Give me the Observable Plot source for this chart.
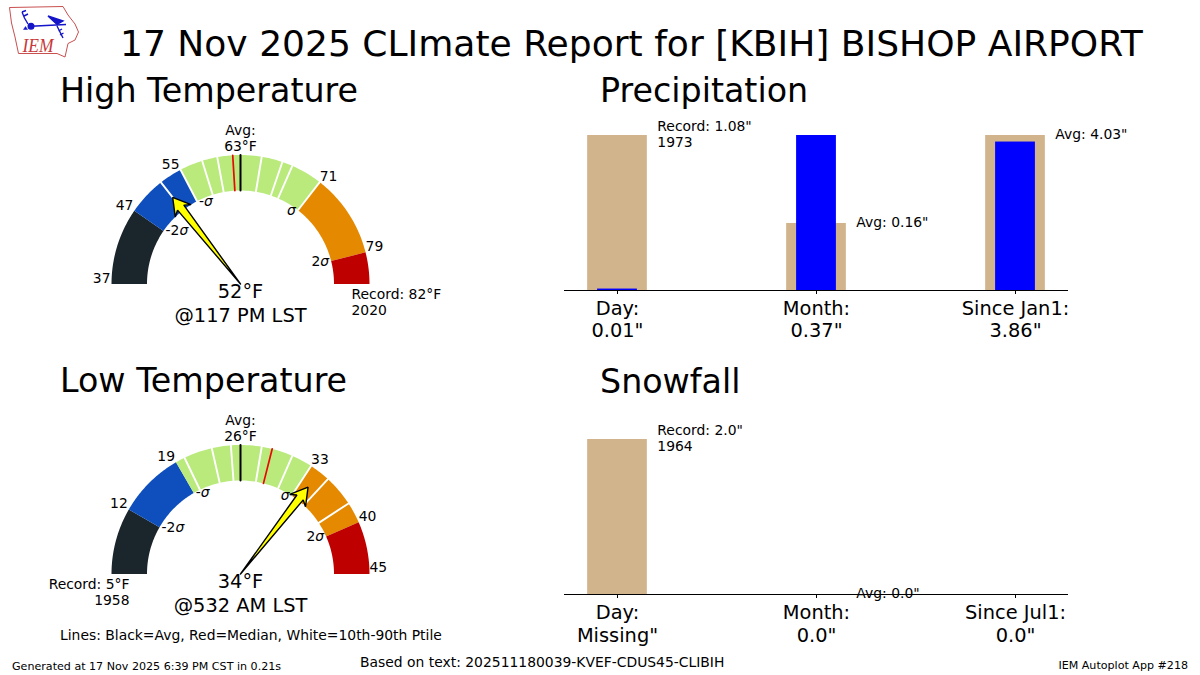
<!DOCTYPE html>
<html><head><meta charset="utf-8">
<script src="https://cdn.jsdelivr.net/npm/d3@7"></script>
<script src="https://cdn.jsdelivr.net/npm/@observablehq/plot@0.6"></script>
<style>
html,body{margin:0;padding:0;background:#fff;width:1200px;height:675px;overflow:hidden;font-family:"DejaVu Sans",sans-serif;color:#000}
.abs{position:absolute;white-space:nowrap;line-height:1}
</style></head><body>
<svg class="abs" style="left:0;top:0" width="90" height="62" viewBox="0 0 90 62">
  <path d="M9.5 7.5L63 6.5L68 15L75 24L78.5 32L75 40L68 43.5L65 57L57 53.5L18.5 53.5L15 37L11.5 23Z" fill="none" stroke="#c8504f" stroke-width="1"/>
  <g stroke="#1414c8" fill="#1414c8" stroke-width="1.4">
    <circle cx="31" cy="26.3" r="2.8"/>
    <path d="M31 26.3L66 24.5M57 26L63 38M22 12L24.5 18L28 24M22 12L26 10.5M24 16L28 14M58.5 31L62 29M60 35L63.5 33" fill="none"/>
    <path d="M48 16L63 21L57 24.5Z"/><path d="M23.5 29.5L25.5 26.5L27.5 29.5Z" stroke-width=".5"/>
  </g>
  <text x="22.5" y="52" font-family="Liberation Serif" font-style="italic" font-size="19" fill="#c8383a" textLength="31" lengthAdjust="spacingAndGlyphs">IEM</text>
</svg>
<div id="root"></div>
<script>
// ---- Chart data ----
const highEdges = [37, 47, 55, 71, 79, 82];
const highAvg = 63, highMedian = 62, highObs = 52;
const highPercentiles = [52, 55, 58, 60, 65, 67, 68, 71];
const highTicks = [37, 47, 55, 71, 79];

const lowEdges = [5, 12, 19, 33, 40, 45];
const lowAvg = 26, lowMedian = 29, lowObs = 34;
const lowPercentiles = [20, 23, 25, 28, 31, 33, 35, 38];
const lowTicks = [12, 19, 33, 40, 45];

const wedgeColors = ["#1b262c", "#0f4fbd", "#b9ea7b", "#e58a00", "#bf0000"];
const sigmaLabels = ["-2σ", "-σ", "σ", "2σ"];

const precipObs = [0.01, 0.37, 3.86];
const precipRef = [1.08, 0.16, 4.03];
const precipRefText = ['Record: 1.08"\n1973', 'Avg: 0.16"', 'Avg: 4.03"'];
const precipTicks = ['Day:\n0.01"', 'Month:\n0.37"', 'Since Jan1:\n3.86"'];

const snowObs = [0, 0, 0];
const snowRef = [2.0, 0.0, 0.0];
const snowRefText = ['Record: 2.0"\n1964', 'Avg: 0.0"', ''];
const snowTicks = ['Day:\nMissing"', 'Month:\n0.0"', 'Since Jul1:\n0.0"'];

const FONT = '"DejaVu Sans"';
const FS = 13.9, FS_BIG = 19.4;
const root = document.getElementById("root");

function place(el, left, top) {
  const d = document.createElement("div");
  d.className = "abs"; d.style.left = left + "px"; d.style.top = top + "px";
  d.appendChild(el); root.appendChild(d);
}
function label(text, x, y, size, anchor) {
  const d = document.createElement("div");
  d.className = "abs"; d.textContent = text;
  d.style.fontSize = size + "px";
  if (anchor === "right") d.style.right = (1200 - x) + "px"; else d.style.left = x + "px";
  d.style.top = y + "px";
  root.appendChild(d);
}

function italicSigma(svg) {
  svg.querySelectorAll("text").forEach(t => {
    if (t.children.length === 0 && t.textContent.includes("σ")) {
      t.innerHTML = t.textContent.replace("σ", '<tspan font-style="italic">σ</tspan>');
    }
  });
}

const R = 129, r = 93.5;

function gauge(cfg) {
  const {edges, avg, median, obs, percentiles, ticks, avgText, obsText, recordText, recordPos, recordAnchor, left, top} = cfg;
  const lo = edges[0], hi = edges[edges.length - 1];
  const ang = v => (v <= avg ? 180 - (v - lo) / (avg - lo) * 90 : 90 - (v - avg) / (hi - avg) * 90) * Math.PI / 180;
  const pt = (v, rad) => [rad * Math.cos(ang(v)), rad * Math.sin(ang(v))];
  const wedge = (a, b) => {
    const n = 48, out = [], inn = [];
    for (let i = 0; i <= n; i++) {
      const v = a + (b - a) * i / n;
      out.push(pt(v, R)); inn.push(pt(v, r));
    }
    const poly = out.concat(inn.reverse());
    poly.push(poly[0]);
    return poly;
  };
  const spoke = (v) => [pt(v, r), pt(v, R)];

  // needle polygon in local (along, across) coordinates
  const th = ang(obs), u = [Math.cos(th), Math.sin(th)], n = [-u[1], u[0]];
  const L = 110;
  const local = [[0, 0], [L - 13, -4], [L - 17, -10], [L, 0], [L - 17, 10], [L - 13, 4], [0, 0]];
  const needle = local.map(([a, c]) => [a * u[0] + c * n[0], a * u[1] + c * n[1]]);

  const sigma = edges.slice(1, 5).map((e, i) => ({e, t: sigmaLabels[i], p: pt(e, r)}));
  const tickPts = ticks.map(v => ({v, p: pt(v, R)}));
  const marks = [];
  edges.slice(0, -1).forEach((e, i) => {
    marks.push(Plot.line(wedge(e, edges[i + 1]), {x: d => d[0], y: d => d[1], fill: wedgeColors[i], stroke: "none", z: null}));
  });
  percentiles.forEach(v => marks.push(Plot.line(spoke(v), {x: d => d[0], y: d => d[1], stroke: "white", strokeWidth: 1.9})));
  marks.push(Plot.line(spoke(median), {x: d => d[0], y: d => d[1], stroke: "#e80808", strokeWidth: 1.7}));
  marks.push(Plot.line(spoke(avg), {x: d => d[0], y: d => d[1], stroke: "black", strokeWidth: 2}));
  marks.push(Plot.line(needle, {x: d => d[0], y: d => d[1], fill: "#ffff00", stroke: "black", strokeWidth: 1.4, strokeLinejoin: "miter", z: null}));
  marks.push(Plot.text(tickPts.filter(t => t.p[0] < 0), {x: t => t.p[0] - 1, y: t => t.p[1], text: t => String(t.v), textAnchor: "end", fontSize: FS, dy: -5.5, fill: "black"}));
  marks.push(Plot.text(tickPts.filter(t => t.p[0] >= 0), {x: t => t.p[0], y: t => t.p[1], text: t => String(t.v), textAnchor: "start", fontSize: FS, dy: -6, fill: "black"}));
  marks.push(Plot.text(sigma.filter(s => s.p[0] < 0), {x: s => s.p[0] + 2, y: s => s.p[1], text: "t", textAnchor: "start", fontSize: FS, fill: "black"}));
  marks.push(Plot.text(sigma.filter(s => s.p[0] >= 0), {x: s => s.p[0] - 2, y: s => s.p[1], text: "t", textAnchor: "end", fontSize: FS, fill: "black"}));
  marks.push(Plot.text([avgText], {x: () => 0, y: () => R + 4, text: d => d, lineAnchor: "bottom", lineHeight: 1.15, fontSize: FS, fill: "black"}));
  marks.push(Plot.text([obsText], {x: () => 0, y: () => -7, text: d => d, lineAnchor: "middle", lineHeight: 1.22, fontSize: FS_BIG, fill: "black", dy: 11.6}));
  marks.push(Plot.text([recordText], {x: () => recordPos[0], y: () => recordPos[1], text: d => d, textAnchor: recordAnchor, lineAnchor: "top", lineHeight: 1.15, fontSize: FS, fill: "black"}));

  const svg = Plot.plot({
    width: 540, height: 230, margin: 0,
    x: {domain: [-240, 300], axis: null},
    y: {domain: [-56.5, 173.5], axis: null},
    style: {fontFamily: FONT, background: "transparent", overflow: "visible"},
    marks
  });
  italicSigma(svg);
  place(svg, left, top);
}

function bars(cfg) {
  const {obs, ref, refText, ticks, top, height, marginTop, marginBottom, tickPadding} = cfg;
  const idx = [0, 1, 2];
  const scale = i => Math.max(obs[i], ref[i]) || 1;
  const refV = i => ref[i] / scale(i), obsV = i => obs[i] / scale(i);
  const svg = Plot.plot({
    width: 640, height, marginLeft: 24, marginRight: 112, marginTop, marginBottom,
    x: {domain: [-0.2663, 2.2663], axis: null},
    y: {domain: [0, 1], axis: null},
    style: {fontFamily: FONT, background: "transparent", overflow: "visible"},
    marks: [
      Plot.rectY(idx, {x1: i => i - 0.15, x2: i => i + 0.15, y1: () => 0, y2: refV, fill: "#d2b48c"}),
      Plot.rectY(idx, {x1: i => i - 0.1, x2: i => i + 0.1, y1: () => 0, y2: obsV, fill: "#0000ff"}),
      Plot.ruleY([0], {stroke: "black", strokeWidth: 1}),
      Plot.axisX({ticks: idx, tickFormat: i => ticks[i], tickSize: 4, tickPadding, fontSize: FS_BIG, lineHeight: 1.15, label: null, stroke: "black", fill: "black", anchor: "bottom", lineAnchor: "top", marginBottom}),
      Plot.text(idx.filter(i => refText[i]), {x: i => i + 0.15, y: refV, text: i => refText[i], dx: 10, dy: -2, textAnchor: "start", lineAnchor: "middle", lineHeight: 1.15, fontSize: FS, fill: "black"})
    ]
  });
  place(svg, 540, top);
}

gauge({edges: highEdges, avg: highAvg, median: highMedian, obs: highObs, percentiles: highPercentiles, ticks: highTicks,
  avgText: "Avg:\n63°F", obsText: "52°F\n@117 PM LST", recordText: "Record: 82°F\n2020", recordPos: [111, -4], recordAnchor: "start", left: 0, top: 110});
gauge({edges: lowEdges, avg: lowAvg, median: lowMedian, obs: lowObs, percentiles: lowPercentiles, ticks: lowTicks,
  avgText: "Avg:\n26°F", obsText: "34°F\n@532 AM LST", recordText: "Record: 5°F\n1958", recordPos: [-111, -4], recordAnchor: "end", left: 0, top: 400});

bars({obs: precipObs, ref: precipRef, refText: precipRefText, ticks: precipTicks, top: 110, height: 240, marginTop: 25, marginBottom: 60, tickPadding: 4.5});
bars({obs: snowObs, ref: snowRef, refText: snowRefText, ticks: snowTicks, top: 400, height: 240, marginTop: 39, marginBottom: 46, tickPadding: 5});

label("17 Nov 2025 CLImate Report for [KBIH] BISHOP AIRPORT", 120, 25.5, 36.05);
label("High Temperature", 60, 74, 33.3);
label("Precipitation", 600, 74, 33.3);
label("Low Temperature", 60, 364, 33.3);
label("Snowfall", 600, 365, 33.3);
label("Lines: Black=Avg, Red=Median, White=10th-90th Ptile", 60, 629, 13.9);
label("Generated at 17 Nov 2025 6:39 PM CST in 0.21s", 12, 661, 11.1);
label("Based on text: 202511180039-KVEF-CDUS45-CLIBIH", 360, 656, 13.9);
label("IEM Autoplot App #218", 1188, 660, 11.1, "right");
</script>
</body></html>
